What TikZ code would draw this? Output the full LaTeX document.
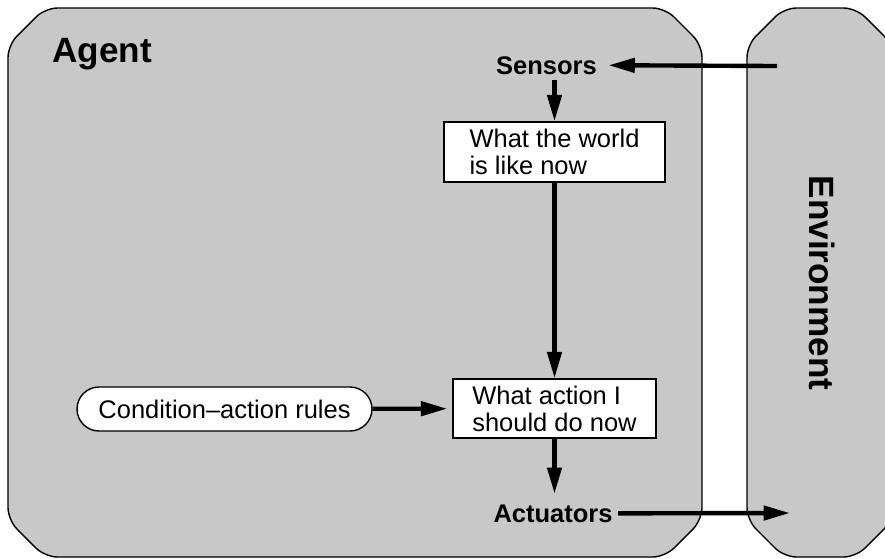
\documentclass[tikz,border=0pt]{standalone}
\usepackage{fontspec}
\setmainfont{Liberation Sans}
\usetikzlibrary{arrows.meta}
\definecolor{panelgray}{RGB}{200,200,200}

\begin{document}
\begin{tikzpicture}[
  font=\fontsize{14.5}{15.4}\selectfont,
  panel/.style={fill=panelgray, draw=black, line width=0.8pt, rounded corners=0.25cm},
  box/.style={draw=black, fill=white, line width=0.8pt, align=left},
  rulebox/.style={draw=black, fill=white, line width=0.8pt, rounded corners=0.44cm,
                  minimum width=5.9cm, minimum height=0.88cm},
  port/.style={font=\fontsize{14.5}{15.4}\selectfont\bfseries, inner sep=3pt},
  title/.style={font=\fontsize{20}{24}\selectfont\bfseries},
  flow/.style={line width=2.5pt, -{Triangle[length=15pt, width=8pt]}}
]

  % Page size 885 x 558 px (1 px = 0.02 cm)
  \useasboundingbox (0,0) rectangle (17.7,-11.16);
  \clip (0,0) rectangle (17.7,-11.16);

  % Agent and environment panels
  \draw[panel] (0.16,-5.65) -- (0.16,-0.9) -- (0.9,-0.16) -- (13.3,-0.16) -- (14.04,-0.9)
    -- (14.04,-10.4) -- (13.3,-11.14) -- (0.9,-11.14) -- (0.16,-10.4) -- cycle;
  \draw[panel] (14.94,-5.65) -- (14.94,-0.9) -- (15.68,-0.16) -- (17.12,-0.16) -- (17.86,-0.9)
    -- (17.86,-10.4) -- (17.12,-11.14) -- (15.68,-11.14) -- (14.94,-10.4) -- cycle;

  % Titles
  \node[title, anchor=base west, inner sep=0pt] (agent) at (1.04,-1.24) {Agent};
  \node[title, rotate=-90] (env) at (16.44,-5.66) {Environment};

  % Inside the agent
  \node[port, anchor=base] (sensors) at (10.93,-1.48) {Sensors};
  \node[box, minimum width=4.42cm, minimum height=1.2cm] (world) at (11.09,-3.04)
    {What the world\\is like now};
  \node[box, minimum width=4.06cm, minimum height=1.18cm] (action) at (11.09,-8.17)
    {What action I\\should do now};
  \node[rulebox] (rules) at (4.49,-8.18) {Condition--action rules};
  \node[port, anchor=base] (actuators) at (11.06,-10.44) {Actuators};

  % Ends in the environment
  \coordinate (envout) at (15.54,-1.32);
  \coordinate (envin) at (15.8,-10.26);

  % Connectors
  \draw[flow, shorten >=0.12cm] (envout) -- (sensors.east);
  \draw[flow] (sensors.south -| world.north) -- (world.north);
  \draw[flow] (world) -- (action);
  \draw[flow, shorten >=0.1cm] (rules) -- (action);
  \draw[flow, shorten >=0.1cm] (action) -- (action.south |- actuators.north);
  \draw[flow] (actuators.east) -- (envin);

\end{tikzpicture}
\end{document}
